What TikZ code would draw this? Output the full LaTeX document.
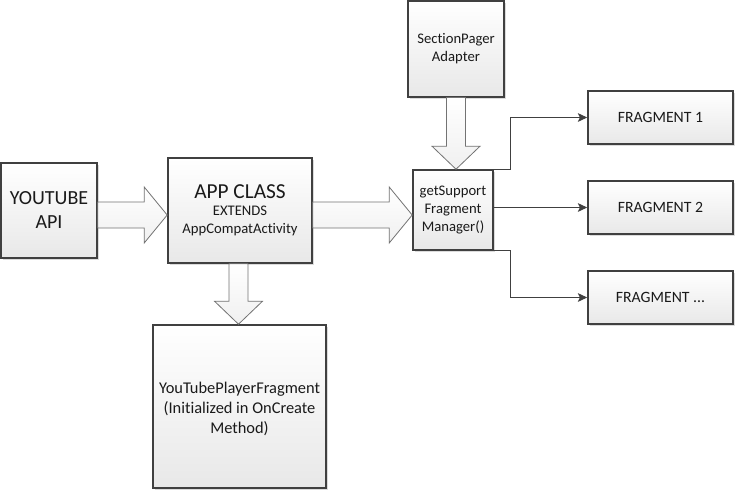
\documentclass[tikz,border=0pt]{standalone}
\usepackage{fontspec}
\setmainfont{Carlito}[Ligatures=NoCommon]
\usetikzlibrary{calc,shadows,arrows.meta}
\definecolor{edge}{HTML}{404040}
\definecolor{txt}{HTML}{1A1A1A}
\begin{document}
\begin{tikzpicture}[x=0.75pt,y=-0.75pt,
  boxnode/.style={draw=edge,line width=1.2pt,rectangle,inner sep=0pt,
    top color=white,bottom color=black!9,text=txt,align=center,
    font=\fontsize{11pt}{13.8pt}\selectfont,
    drop shadow={shadow xshift=1.6pt,shadow yshift=-1.6pt,fill=black!14,opacity=1}},
  blk/.style={draw=black!55,line width=0.6pt,top color=white,bottom color=black!6},
  conn/.style={draw=edge,line width=0.8pt,-{Stealth[length=7pt,width=6.5pt,inset=1.5pt]}}]
\useasboundingbox (0,0) rectangle (735,501);
\fill[white] (0,0) rectangle (735,501);

\node[boxnode,minimum width={96*0.75pt},minimum height={95*0.75pt},
  font=\fontsize{15pt}{18pt}\selectfont] (yt) at (49,210.5) {YOUTUBE\\API};
\node[boxnode,minimum width={144*0.75pt},minimum height={105*0.75pt}] (app) at (240,210.5)
  {{\fontsize{16pt}{19pt}\selectfont APP CLASS}\\[-1pt]EXTENDS\\AppCompatActivity};
\node[boxnode,minimum width={173*0.75pt},minimum height={163*0.75pt},
  font=\fontsize{12.3pt}{15pt}\selectfont] (ytp) at (239.5,406.5)
  {\\[-3pt]YouTubePlayerFragment\\(Initialized in OnCreate\\Method)};
\node[boxnode,minimum width={96*0.75pt},minimum height={96*0.75pt}] (sec) at (456,48.75)
  {SectionPager\\Adapter};
\node[boxnode,minimum width={80*0.75pt},minimum height={80*0.75pt}] (gsm) at (453,210)
  {getSupport\\Fragment\\Manager()};
\node[boxnode,minimum width={145*0.75pt},minimum height={53*0.75pt},font=\fontsize{11.8pt}{14pt}\selectfont] (f1) at (660.5,117.5) {FRAGMENT 1};
\node[boxnode,minimum width={145*0.75pt},minimum height={53*0.75pt},font=\fontsize{11.8pt}{14pt}\selectfont] (f2) at (660.5,207.5) {FRAGMENT 2};
\node[boxnode,minimum width={145*0.75pt},minimum height={53*0.75pt},font=\fontsize{11.8pt}{14pt}\selectfont] (f3) at (660.5,297.5) {FRAGMENT ...};

% horizontal block arrows
\path ($(yt.east)+(0,4.5)$) coordinate (a1s) (app.west |- a1s) coordinate (a1e);
\path ($(app.east)+(0,4.5)$) coordinate (a2s) (gsm.west |- a2s) coordinate (a2e);
\foreach \s/\e in {a1s/a1e,a2s/a2e}{
  \draw[blk] let \p1=(\s), \p2=(\e) in
    (\x1,\y1+9.75pt) -- (\x2-17.25pt,\y1+9.75pt) -- (\x2-17.25pt,\y1+21pt) -- (\x2,\y1)
    -- (\x2-17.25pt,\y1-21pt) -- (\x2-17.25pt,\y1-9.75pt) -- (\x1,\y1-9.75pt) -- cycle;
}
% vertical block arrows
\path (sec.south) coordinate (v1s) (gsm.north) coordinate (v1e);
\path ($(app.south)+(-1.5,0)$) coordinate (v2s) (v2s |- ytp.north) coordinate (v2e);
\foreach \s/\e in {v1s/v1e,v2s/v2e}{
  \draw[blk] let \p1=(\s), \p2=(\e) in
    (\x1-7.1pt,\y1) -- (\x1-7.1pt,\y2+17.25pt) -- (\x1-18pt,\y2+17.25pt) -- (\x1,\y2)
    -- (\x1+18pt,\y2+17.25pt) -- (\x1+7.1pt,\y2+17.25pt) -- (\x1+7.1pt,\y1) -- cycle;
}

% connectors
\draw[conn] (gsm.north east) -- ++(17,0) |- (f1.west);
\draw[conn] (gsm.east |- f2.west) -- (f2.west);
\draw[conn] (gsm.south east) -- ++(17,0) |- (f3.west);
\end{tikzpicture}
\end{document}
